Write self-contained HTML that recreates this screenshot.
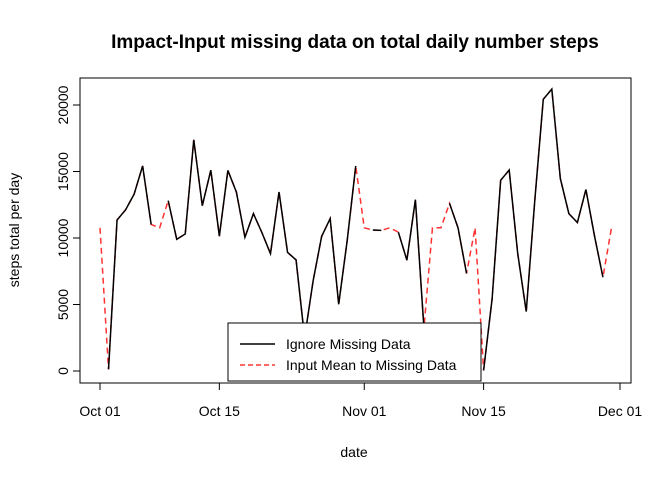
<!DOCTYPE html>
<html>
<head>
<meta charset="utf-8">
<style>
body{margin:0;background:#fff;}
svg{display:block;font-family:"Liberation Sans",Arial,sans-serif;}
</style>
</head>
<body>
<svg id="chart" width="672" height="480">
<text x="355" y="48" text-anchor="middle" font-size="19" font-weight="bold">Impact-Input missing data on total daily number steps</text>
<rect x="80" y="78" width="551" height="305" fill="none" stroke="#000" stroke-width="1"/>
<text x="354" y="457" text-anchor="middle" font-size="14">date</text>
<text transform="translate(19,230) rotate(-90)" text-anchor="middle" font-size="14">steps total per day</text>
<g id="axes"></g>
<g id="series"></g>
<g>
<rect x="228" y="323" width="253" height="58" fill="#fff" stroke="#000"/>
<line x1="240" y1="344" x2="275" y2="344" stroke="#000" stroke-width="1.5"/>
<text x="286" y="349" font-size="14">Ignore Missing Data</text>
<line x1="240" y1="365" x2="275" y2="365" stroke="#ff3333" stroke-width="1.5" stroke-dasharray="5,3"/>
<text x="286" y="370" font-size="14">Input Mean to Missing Data</text>
</g>
</svg>
<script>
const steps=[null,126,11352,12116,13294,15420,11015,null,12811,9900,10304,17382,12426,15098,10139,15084,13452,10056,11829,10395,8821,13460,8918,8355,2492,6778,10119,11458,5018,9819,15414,null,10600,10571,null,10439,8334,12883,3219,null,null,12608,10765,7336,null,41,5441,14339,15110,8841,4472,12787,20427,21194,14478,11834,11162,13646,10183,7047,null];
const meanSteps=10766.19;
const yTicks=[0,5000,10000,15000,20000];
const xTickDays=[0,14,31,45,61];
const xTickLabels=["Oct 01","Oct 15","Nov 01","Nov 15","Dec 01"];
const NS="http://www.w3.org/2000/svg";
const xs=d=>100+d*(520/61);
const ys=v=>371-v*(266/20000);
const axes=document.getElementById('axes');
const series=document.getElementById('series');
function mk(tag,attrs,parent){const e=document.createElementNS(NS,tag);for(const k in attrs)e.setAttribute(k,attrs[k]);parent.appendChild(e);return e;}
let l=mk('line',{x1:80,x2:80,y1:ys(0),y2:ys(20000),stroke:'#000'},axes);


yTicks.forEach(v=>{
 const t=mk('line',{x1:73,x2:80,y1:ys(v),y2:ys(v),stroke:'#000'},axes);
 
 
 const tx=mk('text',{transform:`translate(68,${ys(v)}) rotate(-90)`,'text-anchor':'middle','font-size':14},axes);
 tx.textContent=v;
 
 
});
l=mk('line',{x1:xs(0),x2:xs(61),y1:383,y2:383,stroke:'#000'},axes);


xTickDays.forEach((d,i)=>{
 const t=mk('line',{x1:xs(d),x2:xs(d),y1:383,y2:390,stroke:'#000'},axes);
 
 
 const tx=mk('text',{x:xs(d),y:416,'text-anchor':'middle','font-size':14},axes);
 tx.textContent=xTickLabels[i];
 
 
});
const imp=steps.slice(0,61).map(v=>v===null?meanSteps:v);
const p1=mk('polyline',{points:imp.map((v,i)=>xs(i)+','+ys(v)).join(' '),fill:'none',stroke:'#ff3333','stroke-width':1.5,'stroke-dasharray':'6,4'},series);


let segs=[],cur=[];
steps.slice(0,61).forEach((v,i)=>{if(v===null){if(cur.length)segs.push(cur);cur=[];}else cur.push(xs(i)+','+ys(v));});
if(cur.length)segs.push(cur);
segs.forEach(s=>{
 const p=mk('polyline',{points:s.join(' '),fill:'none',stroke:'#000','stroke-width':1.5},series);
 
 
});
</script>
</body>
</html>
